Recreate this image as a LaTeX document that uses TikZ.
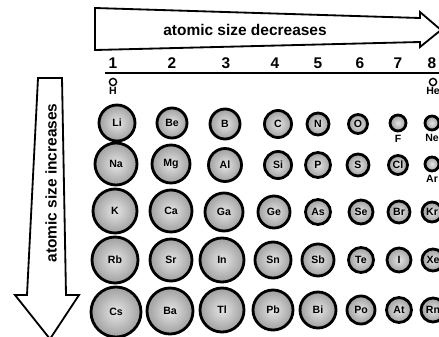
\documentclass[tikz,border=0pt]{standalone}
\usepackage{fontspec}
\setmainfont{Liberation Sans}
\usepackage{tikz}
\usetikzlibrary{positioning, shadings}

\begin{document}
\begin{tikzpicture}[
  x=0.025cm, y=-0.025cm,
  atom/.style={circle, minimum size=#1*0.05cm, inner sep=0pt,
               draw=black, line width=2pt, inner color=gray!20,
               outer color=gray!75, font=\fontsize{7.5}{7.5}\bfseries},
  tiny/.style={circle, minimum size=0.18cm, inner sep=0pt,
               draw=black, line width=1pt, fill=white},
  sym/.style={font=\fontsize{7.5}{8}\bfseries, inner sep=0.5pt},
  grp/.style={font=\fontsize{11}{11}\bfseries},
  bigarrow/.style={draw=black, line width=1.3pt, fill=white, line join=miter},
  arrtxt/.style={font=\fontsize{11}{11}\bfseries},
]
  \useasboundingbox (0,0) rectangle (439,336);

  %% -- big arrows --------------------------------------------------------
  \draw[bigarrow] (95,8) -- (420,18) -- (420,12) -- (441,30) -- (420,47)
                  -- (420,42) -- (95,50) -- cycle;
  \node[arrtxt] (dec) at (245,30) {atomic size decreases};

  \draw[bigarrow] (38,78) -- (62,78) -- (66,295) -- (79,295) -- (50,339)
                  -- (15,295) -- (27,295) -- cycle;
  \node[arrtxt, rotate=90] (inc) at (51,183) {atomic size increases};

  %% -- group numbers and rule --------------------------------------------
  \node[grp] (g1) at (113,63) {1};
  \node[grp] (g2) at (172,63) {2};
  \node[grp] (g3) at (226,63) {3};
  \node[grp] (g4) at (275,63) {4};
  \node[grp] (g5) at (318,63) {5};
  \node[grp] (g6) at (360,63) {6};
  \node[grp] (g7) at (398,63) {7};
  \node[grp] (g8) at (432,63) {8};
  \coordinate (ruleL) at (105,73);
  \coordinate (ruleR) at (440,73);
  \draw[line width=1.3pt] (ruleL) -- (ruleR);

  %% -- period 1 ------------------------------------------------------------
  \node[tiny] (H)  at (113,82) {};
  \node[sym, below=0pt of H] (Hl) {H};
  \node[tiny] (He) at (433,82) {};
  \node[sym, below=0pt of He] (Hel) {He};

  %% -- period 2 ------------------------------------------------------------
  \node[atom=18] (Li) at (117,123) {Li};
  \node[atom=15] (Be) at (172,123) {Be};
  \node[atom=15] (B)  at (225,124) {B};
  \node[atom=13.5] (C) at (278,124) {C};
  \node[atom=11] (N)  at (318,124) {N};
  \node[atom=9.5] (O) at (358,124) {O};
  \node[atom=8]  (F)  at (398,123) {};
  \node[atom=7]  (Ne) at (432,123) {};
  \node[sym, below=1pt of F]  (Fl)  {F};
  \node[sym, below=1pt of Ne] (Nel) {Ne};

  %% -- period 3 ------------------------------------------------------------
  \node[atom=21] (Na) at (116,164) {Na};
  \node[atom=19] (Mg) at (171,164) {Mg};
  \node[atom=16.5] (Al) at (225,165) {Al};
  \node[atom=13.5] (Si) at (278,165) {Si};
  \node[atom=12.5] (P) at (318,165) {P};
  \node[atom=11] (S)  at (358,165) {S};
  \node[atom=9.5] (Cl) at (398,165) {Cl};
  \node[atom=7]  (Ar) at (432,164) {};
  \node[sym, below=1pt of Ar] (Arl) {Ar};

  %% -- period 4 ------------------------------------------------------------
  \node[atom=22] (K)  at (115,211) {K};
  \node[atom=21] (Ca) at (171,211) {Ca};
  \node[atom=19] (Ga) at (224,212) {Ga};
  \node[atom=16] (Ge) at (274,212) {Ge};
  \node[atom=12.5] (As) at (318,212) {As};
  \node[atom=12] (Se) at (361,212) {Se};
  \node[atom=11] (Br) at (399,212) {Br};
  \node[atom=10] (Kr) at (432,212) {Kr};

  %% -- period 5 ------------------------------------------------------------
  \node[atom=23] (Rb) at (115,260) {Rb};
  \node[atom=21] (Sr) at (171,260) {Sr};
  \node[atom=22] (In) at (222,260) {In};
  \node[atom=18] (Sn) at (273,260) {Sn};
  \node[atom=16] (Sb) at (318,260) {Sb};
  \node[atom=12.5] (Te) at (361,260) {Te};
  \node[atom=12] (I)  at (399,260) {I};
  \node[atom=11] (Xe) at (433,260) {Xe};

  %% -- period 6 ------------------------------------------------------------
  \node[atom=25] (Cs) at (116,312) {Cs};
  \node[atom=23] (Ba) at (170,311) {Ba};
  \node[atom=22] (Tl) at (222,310) {Tl};
  \node[atom=20] (Pb) at (273,310) {Pb};
  \node[atom=18] (Bi) at (318,310) {Bi};
  \node[atom=14] (Po) at (361,310) {Po};
  \node[atom=12.5] (At) at (399,310) {At};
  \node[atom=12] (Rn) at (433,310) {Rn};

\end{tikzpicture}
\end{document}
